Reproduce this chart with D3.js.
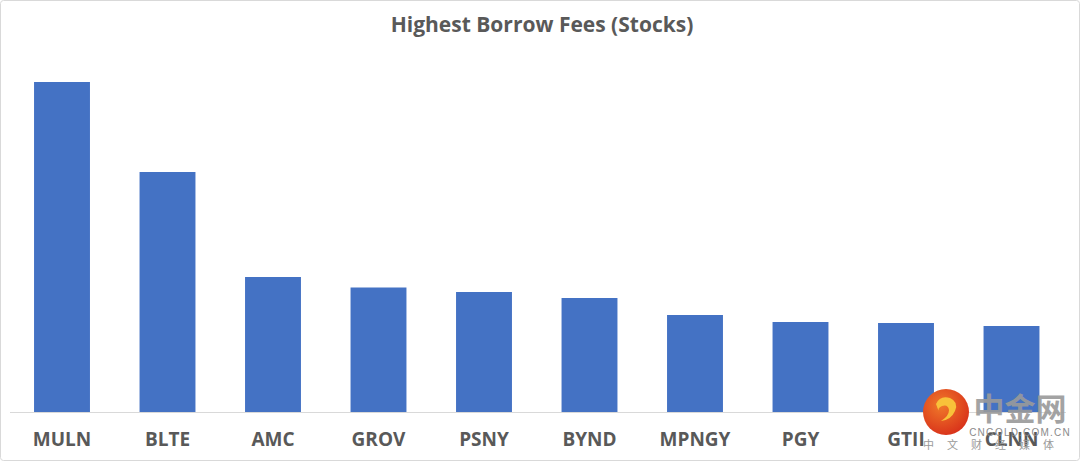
<!DOCTYPE html>
<html><head><meta charset="utf-8">
<script src="https://cdn.jsdelivr.net/npm/d3@7"></script>
<style>html,body{margin:0;padding:0;background:#fff;}svg{display:block;}</style>
</head><body>
<script>
const categories = ["MULN","BLTE","AMC","GROV","PSNY","BYND","MPNGY","PGY","GTII","CLNN"];
const fees = [330, 240, 135, 124.5, 120, 114, 97, 90, 89, 86];
const title = "Highest Borrow Fees (Stocks)";

const W = 1080, H = 461;
const svg = d3.select("body").append("svg").attr("width", W).attr("height", H);
svg.append("rect").attr("x",0.5).attr("y",0.5).attr("width",W-1).attr("height",H-1)
  .attr("fill","#fff").attr("stroke","#d9d9d9").attr("rx",3);

const x = d3.scaleBand().domain(categories).range([9.25, 1064.25]).paddingInner(0.47).paddingOuter(0.235);
const y = d3.scaleLinear().domain([0, 360]).range([412, 52]);

svg.append("text").attr("x", 542).attr("y", 32).attr("text-anchor","middle")
  .attr("font-family","Open Sans, sans-serif").attr("font-weight","bold").attr("font-size",21)
  .attr("fill","#595959").text(title);

svg.selectAll("rect.bar").data(fees).enter().append("rect").attr("class","bar")
  .attr("x",(d,i)=>x(categories[i])).attr("width",x.bandwidth())
  .attr("y",d=>y(d)).attr("height",d=>y(0)-y(d)).attr("fill","#4472c4");

const xAxis = svg.append("g").attr("transform","translate(0,412)")
  .call(d3.axisBottom(x).tickSize(0).tickPadding(21));
xAxis.select(".domain").attr("stroke","#d9d9d9").attr("d","M10,0.5H1066");
xAxis.selectAll("text").attr("font-family","Open Sans, sans-serif").attr("font-weight","bold")
  .attr("font-size",19).attr("fill","#595959").attr("dy","0.71em");

// watermark
const wm = svg.append("g");
const grad = svg.append("defs").append("radialGradient").attr("id","lg").attr("cx","40%").attr("cy","35%").attr("r","70%");
grad.append("stop").attr("offset","0%").attr("stop-color","#f07a2a");
grad.append("stop").attr("offset","100%").attr("stop-color","#d8301a");
wm.append("circle").attr("cx",946).attr("cy",412).attr("r",23).attr("fill","url(#lg)");
wm.append("path").attr("d","M936,404 q4,-9 14,-6 q9,4 5,13 q-4,9 -14,10 q8,-5 8,-11 q-1,-6 -7,-4 q-5,2 -3,6 z")
  .attr("fill","#f8c23a");
wm.append("text").attr("x",1020).attr("y",420).attr("text-anchor","middle")
  .attr("font-family","Noto Sans CJK SC, sans-serif").attr("font-weight","bold").attr("font-size",31)
  .attr("fill","#9a9a9a").attr("opacity",0.9).text("中金网");
wm.append("text").attr("x",1020).attr("y",436).attr("text-anchor","middle")
  .attr("font-family","Liberation Sans, sans-serif").attr("font-size",10).attr("letter-spacing",1.2)
  .attr("fill","#8a8a8a").text("CNGOLD.COM.CN");
wm.append("text").attr("x",995).attr("y",449).attr("text-anchor","middle")
  .attr("font-family","Noto Sans CJK SC, sans-serif").attr("font-size",11).attr("letter-spacing",13)
  .attr("fill","#9a9a9a").text("中文财经媒体");
</script>
</body></html>
